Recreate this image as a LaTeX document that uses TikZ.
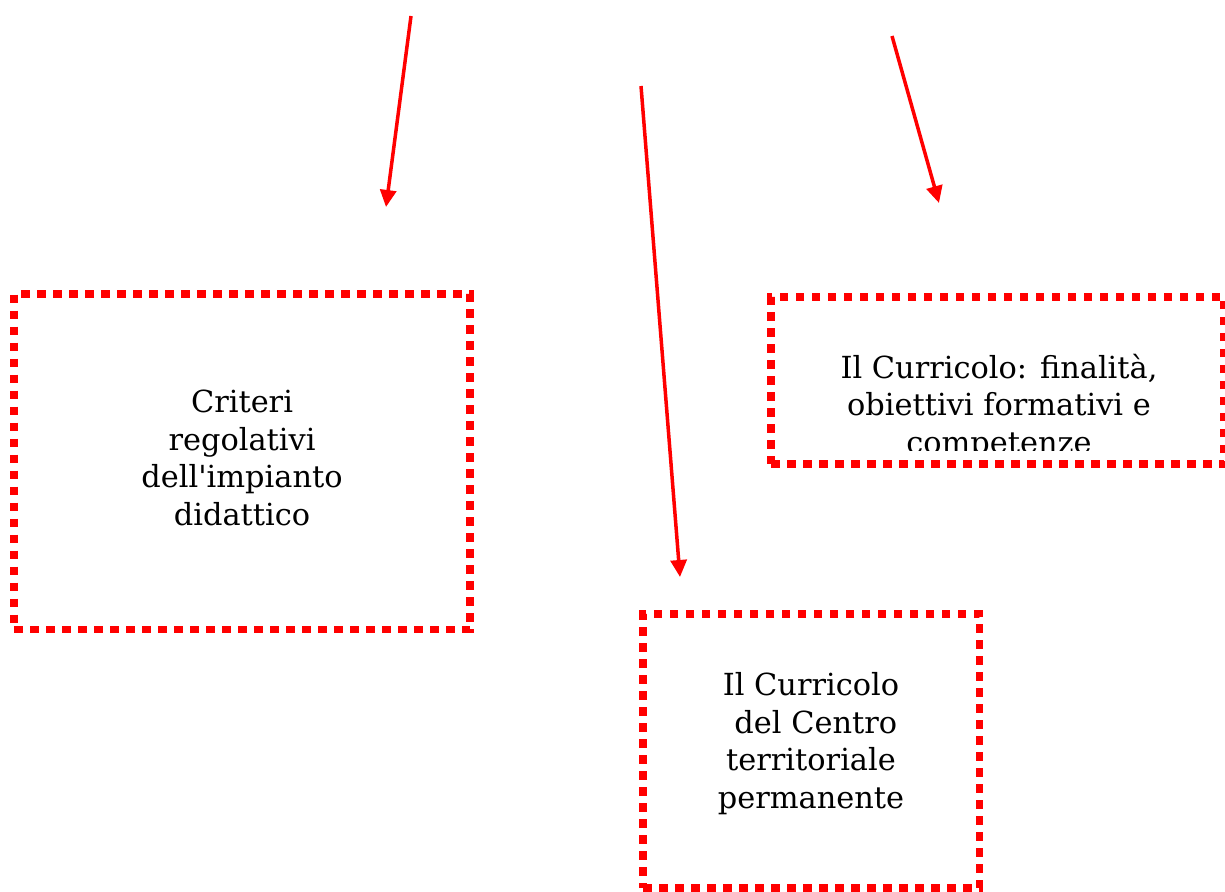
\documentclass[tikz,border=0pt]{standalone}
\usepackage{fontspec}
\setmainfont{DejaVu Serif}
\usetikzlibrary{arrows.meta}
\tikzset{
  dotbox/.style={draw=red, rectangle, line width=7.5pt, dash pattern=on 8.5pt off 7.5pt, inner sep=0pt, outer sep=0pt},
  boxtext/.style={align=center, anchor=base, inner sep=0pt, font=\fontsize{30.4}{37.5}\selectfont},
  redarrow/.style={draw=red, line width=3.5pt, -{Triangle[length=17pt,width=16pt]}}
}
\begin{document}
\begin{tikzpicture}[x=1pt,y=-1pt]
\useasboundingbox (0,0) rectangle (1225,891);
% boxes
\node[dotbox, minimum width=456pt, minimum height=335.5pt] (b1) at (242,461.75) {};
\node[dotbox, minimum width=453pt, minimum height=167pt] (b2) at (997.5,380.5) {};
\node[dotbox, minimum width=336.5pt, minimum height=274pt] (b3) at (811.25,751) {};
% texts (anchor = baseline of the last line)
\node[boxtext] (t1) at (242,525) {Criteri\\regolativi\\dell\textquotesingle impianto\\didattico};
\begin{scope}
\clip (775,301) rectangle (1221,450);
\node[boxtext] (t2) at (999,453) {Il Curricolo: finalità,\\obiettivi formativi e\\competenze};
\end{scope}
\node[boxtext] (t3) at (811,808) {Il Curricolo\\\ del Centro\\territoriale\\permanente};
% arrows
\coordinate (s1) at (411,16);
\coordinate (e1) at (386,207);
\coordinate (s2) at (892,36);
\coordinate (e2) at (939,203);
\coordinate (s3) at (641,86);
\coordinate (e3) at (680,577);
\draw[redarrow] (s1) -- (e1);
\draw[redarrow] (s2) -- (e2);
\draw[redarrow] (s3) -- (e3);
\end{tikzpicture}
\end{document}
